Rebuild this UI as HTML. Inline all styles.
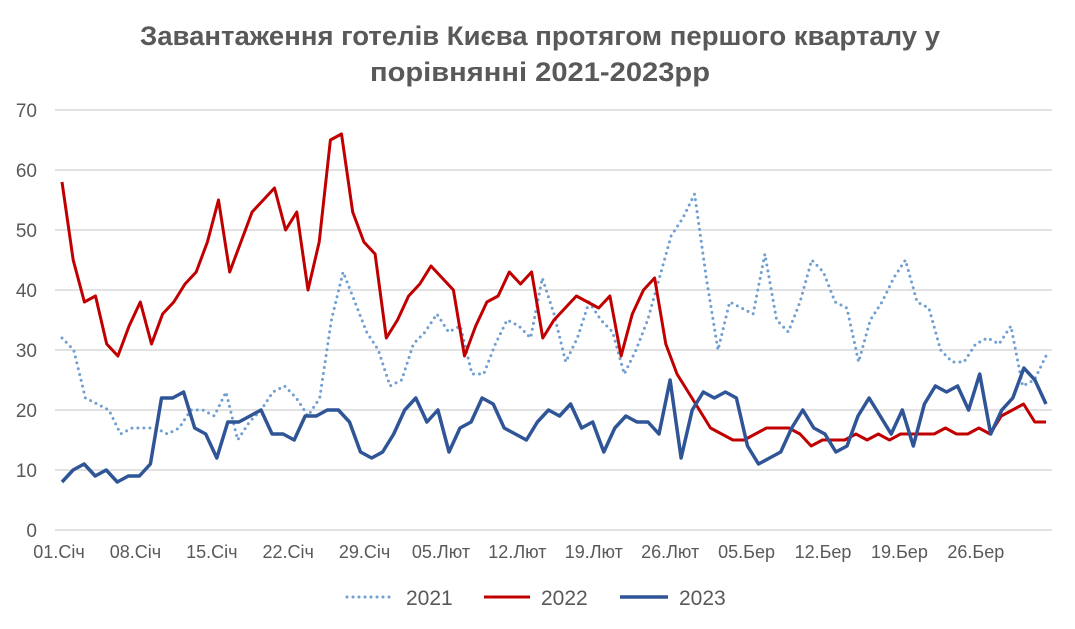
<!DOCTYPE html>
<html><head><meta charset="utf-8"><style>
html,body{margin:0;padding:0;background:#fff;}
svg{display:block;font-family:"Liberation Sans","DejaVu Sans",sans-serif;}
</style></head><body>
<svg id="c" width="1075" height="629" viewBox="0 0 1075 629" xmlns="http://www.w3.org/2000/svg">
<text x="540" y="45" text-anchor="middle" font-size="27" font-weight="bold" fill="#595959" textLength="800" lengthAdjust="spacingAndGlyphs">Завантаження готелів Києва протягом першого кварталу у</text>
<text x="540" y="81" text-anchor="middle" font-size="27" font-weight="bold" fill="#595959" textLength="340" lengthAdjust="spacingAndGlyphs">порівнянні 2021-2023рр</text>
<g id="grid"></g>
<g id="series"></g>
<g font-size="21" fill="#595959">
<line x1="347" y1="597" x2="395" y2="597" stroke="#6f9fd0" stroke-width="3" stroke-dasharray="0 6" stroke-linecap="round"/>
<text x="406" y="605">2021</text>
<line x1="484" y1="597" x2="530" y2="597" stroke="#c00000" stroke-width="3"/>
<text x="541" y="605">2022</text>
<line x1="620" y1="597" x2="668" y2="597" stroke="#2f5597" stroke-width="3.5"/>
<text x="679" y="605">2023</text>
</g>
</svg>
<script>
var ns="http://www.w3.org/2000/svg";
function el(t,a,txt){var e=document.createElementNS(ns,t);for(var k in a)e.setAttribute(k,a[k]);if(txt!=null)e.textContent=txt;return e;}
var g=document.getElementById("grid"),s=document.getElementById("series");
function Y(v){return 530-6*v;}
for(var v=0;v<=70;v+=10){
 g.appendChild(el("line",{x1:55,x2:1052,y1:Y(v),y2:Y(v),stroke:"#d9d9d9","stroke-width":1.5}));
 g.appendChild(el("text",{x:37,y:Y(v)+7,"text-anchor":"end","font-size":19,fill:"#595959"},String(v)));
}
var labs=["01.Січ","08.Січ","15.Січ","22.Січ","29.Січ","05.Лют","12.Лют","19.Лют","26.Лют","05.Бер","12.Бер","19.Бер","26.Бер"];
for(var i=0;i<labs.length;i++){
 g.appendChild(el("text",{x:59+i*76.4,y:558,"text-anchor":"middle","font-size":18,fill:"#595959"},labs[i]));
}
var d21=[32,30,22,21,20,16,17,17,17,16,17,20,20,19,23,15,18,20,23,24,22,19,22,35,43,38,33,30,24,25,31,33,36,33,34,26,26,31,35,34,32,42,36,28,32,38,35,33,26,30,35,42,49,52,56,42,30,38,37,36,46,35,33,38,45,43,38,37,28,35,38,42,45,38,37,30,28,28,31,32,31,34,24,25,29];
var d22=[58,45,38,39,31,29,34,38,31,36,38,41,43,48,55,43,48,53,55,57,50,53,40,48,65,66,53,48,46,32,35,39,41,44,42,40,29,34,38,39,43,41,43,32,35,37,39,38,37,39,29,36,40,42,31,26,23,20,17,16,15,15,16,17,17,17,16,14,15,15,15,16,15,16,15,16,16,16,16,17,16,16,17,16,19,20,21,18,18];
var d23=[8,10,11,9,10,8,9,9,11,22,22,23,17,16,12,18,18,19,20,16,16,15,19,19,20,20,18,13,12,13,16,20,22,18,20,13,17,18,22,21,17,16,15,18,20,19,21,17,18,13,17,19,18,18,16,25,12,20,23,22,23,22,14,11,12,13,17,20,17,16,13,14,19,22,19,16,20,14,21,24,23,24,20,26,16,20,22,27,25,21];
function pl(d,attrs){
 var step=984/(d.length-1),p=[];
 for(var i=0;i<d.length;i++)p.push((62+i*step).toFixed(1)+","+Y(d[i]).toFixed(1));
 attrs.points=p.join(" ");attrs.fill="none";attrs["stroke-linejoin"]="round";
 s.appendChild(el("polyline",attrs));
}
pl(d21,{stroke:"#6f9fd0","stroke-width":3,"stroke-dasharray":"0 6","stroke-linecap":"round"});
pl(d22,{stroke:"#c00000","stroke-width":3});
pl(d23,{stroke:"#2f5597","stroke-width":3.5});
</script>
</body></html>
